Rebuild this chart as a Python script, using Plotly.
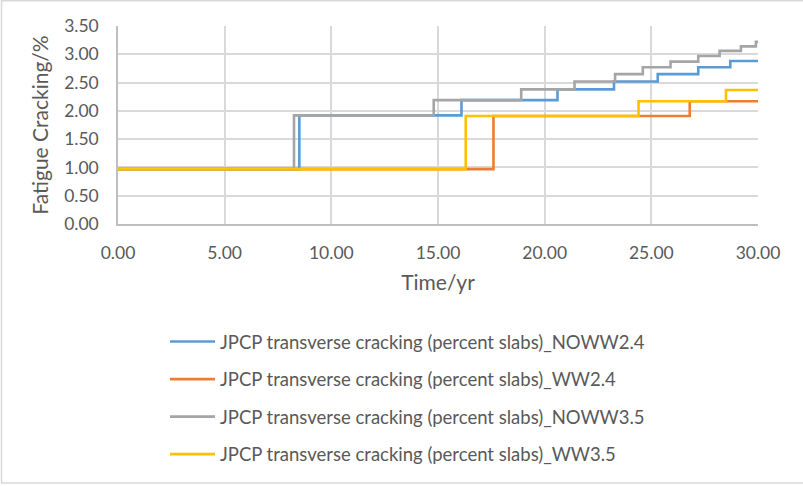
import plotly.graph_objects as go

# Data (step change points)
noww24_t = [0, 8.5, 16.1, 20.6, 23.25, 25.3, 27.2, 28.7, 30]
noww24_v = [0.97, 1.92, 2.19, 2.38, 2.52, 2.65, 2.77, 2.88, 2.88]

ww24_t = [0, 17.6, 26.8, 30]
ww24_v = [0.97, 1.91, 2.17, 2.17]

noww35_t = [0, 8.25, 14.8, 18.9, 21.4, 23.3, 24.6, 25.9, 27.2, 28.2, 29.2, 29.9, 30]
noww35_v = [0.97, 1.92, 2.19, 2.38, 2.52, 2.65, 2.77, 2.87, 2.97, 3.06, 3.14, 3.22, 3.22]

ww35_t = [0, 16.3, 24.4, 28.5, 30]
ww35_v = [0.97, 1.91, 2.17, 2.37, 2.37]

series = [
    ("JPCP transverse cracking (percent slabs)_NOWW2.4", noww24_t, noww24_v, "#5B9BD5"),
    ("JPCP transverse cracking (percent slabs)_WW2.4", ww24_t, ww24_v, "#ED7D31"),
    ("JPCP transverse cracking (percent slabs)_NOWW3.5", noww35_t, noww35_v, "#A5A5A5"),
    ("JPCP transverse cracking (percent slabs)_WW3.5", ww35_t, ww35_v, "#FFC000"),
]

FONT = "Lato"
TXT = "#595959"

fig = go.Figure()
for i, (name, t, v, c) in enumerate(series):
    fig.add_trace(go.Scatter(
        x=t, y=v, name=name, mode="lines",
        line=dict(color=c, width=2.6, shape="hv"),
        legendgroup=f"g{i}",
    ))

W, H = 803, 486
L, R, T, B = 118, 45, 26, 262
pw, ph = W - L - R, H - T - B

def px_x(p):
    return (p - L) / pw

def px_y(p):
    return (H - B - p) / ph

fig.update_layout(
    width=W, height=H,
    margin=dict(l=L, r=R, t=T, b=B, autoexpand=False),
    paper_bgcolor="white", plot_bgcolor="white",
    font=dict(family=FONT, color=TXT, size=17),
    showlegend=True,
    legend=dict(
        x=px_x(165), y=px_y(323), xanchor="left", yanchor="top",
        orientation="v", tracegroupgap=10.5, itemwidth=45,
        font=dict(family=FONT, size=18.5, color=TXT),
        bgcolor="rgba(0,0,0,0)",
    ),
    xaxis=dict(
        range=[0, 30], dtick=5, tick0=0, tickformat=".2f",
        showgrid=True, gridcolor="#d9d9d9", gridwidth=1.5,
        showline=True, linecolor="#bfbfbf", linewidth=1.5,
        zeroline=False, ticks="", ticklabelstandoff=12,
        tickfont=dict(family=FONT, size=17.5, color=TXT),
        title=dict(text="Time/yr", font=dict(family=FONT, size=21, color=TXT), standoff=14),
        automargin=False,
    ),
    yaxis=dict(
        range=[0, 3.5], dtick=0.5, tick0=0, tickformat=".2f",
        showgrid=True, gridcolor="#d9d9d9", gridwidth=1.5,
        showline=True, linecolor="#bfbfbf", linewidth=1.5,
        zeroline=False, ticks="", ticklabelstandoff=14,
        tickfont=dict(family=FONT, size=17.5, color=TXT),
        title=dict(text="Fatigue Cracking/%", font=dict(family=FONT, size=21, color=TXT), standoff=10),
        automargin=False,
    ),
    shapes=[dict(
        type="rect", xref="paper", yref="paper",
        x0=px_x(1.5), x1=px_x(806), y0=px_y(483), y1=px_y(0.75),
        line=dict(color="#d9d9d9", width=1.5), fillcolor="rgba(0,0,0,0)",
        layer="below",
    )],
)

fig.write_html(
    "out.html",
    config={"displayModeBar": False},
    post_script="document.body.style.margin='0';document.body.style.overflow='hidden';",
)
